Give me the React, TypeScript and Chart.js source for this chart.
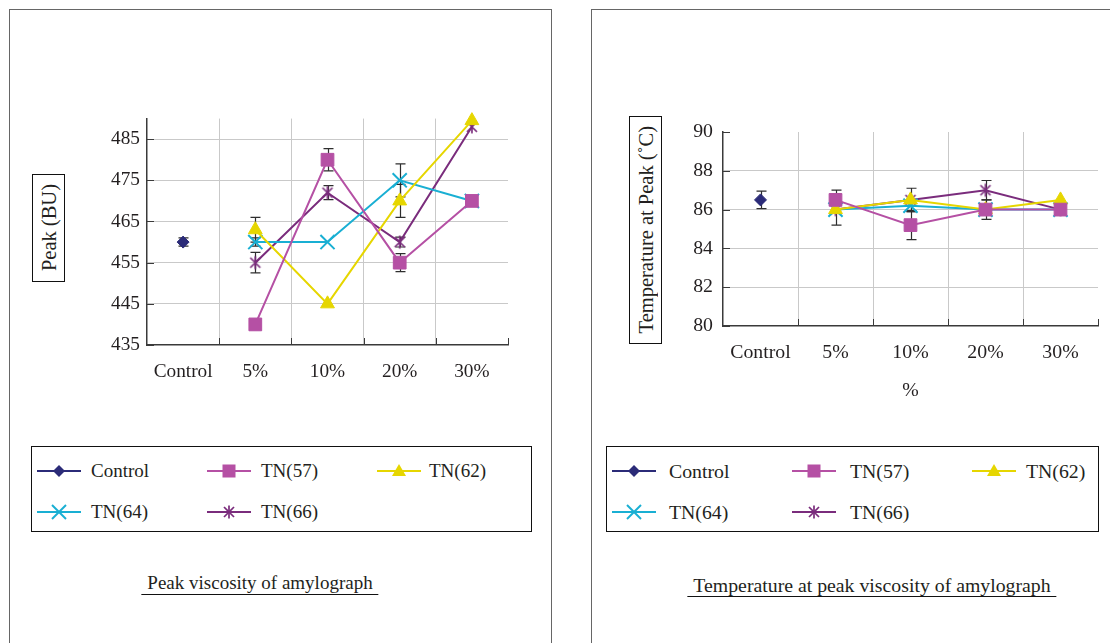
import React, { useEffect, useRef } from 'react';
import { Chart, registerables } from 'chart.js';

Chart.register(...registerables);

// ---------- data ----------
const categories = ['Control', '5%', '10%', '20%', '30%'];
const seriesNames = ['Control', 'TN(57)', 'TN(62)', 'TN(64)', 'TN(66)'];
const seriesColors = ['#2b2b78', '#b550a4', '#e6d600', '#19afd3', '#7a2c7c'];

// Peak (BU)
const peakControl = [460, null, null, null, null];
const peakTN57 = [null, 440, 480, 455, 470];
const peakTN62 = [null, 463, 445, 470, 489.5];
const peakTN64 = [null, 460, 460, 475, 470];
const peakTN66 = [null, 455, 472, 460, 488];
const peakErrControl = [1, null, null, null, null];
const peakErrTN57 = [null, null, 2.7, 2.2, null];
const peakErrTN62 = [null, 3, null, 4, null];
const peakErrTN64 = [null, 1, null, 4, null];
const peakErrTN66 = [null, 2.5, 1.7, 1.2, null];
const peakTicks = [435, 445, 455, 465, 475, 485];
const peakMin = 435;
const peakMax = 490;

// Temperature at peak (°C)
const tempControl = [86.5, null, null, null, null];
const tempTN57 = [null, 86.5, 85.2, 86, 86];
const tempTN62 = [null, 86, 86.5, 86, 86.5];
const tempTN64 = [null, 86, 86.2, 86, 86];
const tempTN66 = [null, 86, 86.5, 87, 86];
const tempErrControl = [0.45, null, null, null, null];
const tempErrTN57 = [null, 0.5, 0.75, 0.5, null];
const tempErrTN62 = [null, null, null, null, null];
const tempErrTN64 = [null, null, 0.3, null, null];
const tempErrTN66 = [null, 0.8, 0.6, 0.5, null];
const tempTicks = [80, 82, 84, 86, 88, 90];
const tempMin = 80;
const tempMax = 90;

// ---------- styling ----------
const FONT = "'Liberation Serif', 'Times New Roman', serif";
const TEXT = '#231f20';
const GRID = '#c9c9c9';
const AXIS = '#3a3a3a';
const TRANSPARENT = 'rgba(0,0,0,0)';

function makeStar(color: string): HTMLCanvasElement {
  const c = document.createElement('canvas');
  c.width = 16;
  c.height = 16;
  const g = c.getContext('2d')!;
  g.strokeStyle = color;
  g.lineWidth = 1.7;
  g.beginPath();
  g.moveTo(3, 3); g.lineTo(13, 13);
  g.moveTo(13, 3); g.lineTo(3, 13);
  g.moveTo(8, 1.5); g.lineTo(8, 14.5);
  g.stroke();
  return c;
}

const errorBarPlugin = {
  id: 'errorBars',
  beforeDatasetsDraw(chart: any) {
    const { ctx } = chart;
    const x = chart.scales.x;
    const y = chart.scales.y;
    ctx.save();
    ctx.strokeStyle = '#2e2e2e';
    ctx.lineWidth = 1.2;
    chart.data.datasets.forEach((ds: any) => {
      const errs = ds.errors;
      if (!errs) return;
      ds.data.forEach((v: number | null, i: number) => {
        const e = errs[i];
        if (v == null || !e) return;
        const px = Math.round(x.getPixelForValue(i)) + 0.5;
        const top = y.getPixelForValue(v + e);
        const bot = y.getPixelForValue(v - e);
        ctx.beginPath();
        ctx.moveTo(px, top); ctx.lineTo(px, bot);
        ctx.moveTo(px - 5, top); ctx.lineTo(px + 5, top);
        ctx.moveTo(px - 5, bot); ctx.lineTo(px + 5, bot);
        ctx.stroke();
      });
    });
    ctx.restore();
  },
};

const insideTicksPlugin = {
  id: 'insideTicks',
  beforeDatasetsDraw(chart: any) {
    const { ctx, chartArea } = chart;
    const x = chart.scales.x;
    const y = chart.scales.y;
    ctx.save();
    ctx.strokeStyle = AXIS;
    ctx.lineWidth = 1;
    ctx.beginPath();
    y.ticks.forEach((t: any) => {
      const py = Math.round(y.getPixelForValue(t.value)) + 0.5;
      ctx.moveTo(chartArea.left, py);
      ctx.lineTo(chartArea.left + 7, py);
    });
    const n = x.ticks.length;
    for (let i = 0; i < n; i++) {
      const bx = i < n - 1
        ? (x.getPixelForTick(i) + x.getPixelForTick(i + 1)) / 2
        : chartArea.right;
      const px = Math.round(bx) + 0.5;
      ctx.moveTo(px, chartArea.bottom);
      ctx.lineTo(px, chartArea.bottom - 7);
    }
    ctx.stroke();
    ctx.restore();
  },
};

function buildDatasets(values: (number | null)[][], errors: (number | null)[][]) {
  const star = makeStar(seriesColors[4]);
  const styles: any[] = [
    { pointStyle: 'rectRot', pointRadius: 6, pointBorderWidth: 1 },
    { pointStyle: 'rect', pointRadius: 9, pointBorderWidth: 1 },
    { pointStyle: 'triangle', pointRadius: 8, pointBorderWidth: 1 },
    { pointStyle: 'crossRot', pointRadius: 10, pointBorderWidth: 2 },
    { pointStyle: star, pointRadius: 8, pointBorderWidth: 1 },
  ];
  return values.map((data, i) => ({
    label: seriesNames[i],
    data,
    errors: errors[i],
    borderColor: seriesColors[i],
    backgroundColor: seriesColors[i],
    pointBackgroundColor: seriesColors[i],
    pointBorderColor: seriesColors[i],
    borderWidth: 2,
    clip: false,
    ...styles[i],
    pointHoverRadius: styles[i].pointRadius,
  }));
}

interface PanelChartProps {
  values: (number | null)[][];
  errors: (number | null)[][];
  ticks: number[];
  min: number;
  max: number;
  left: number;
  top: number;
  width: number;
  height: number;
  yAxisWidth: number;
  xAxisHeight: number;
  padRight: number;
  padTop: number;
  yLabelPad: number;
  xLabelPad: number;
  hideGridAt: number | null;
  xTitle: string | null;
  fontSize: number;
}

function PanelChart(p: PanelChartProps) {
  const ref = useRef<HTMLCanvasElement>(null);
  useEffect(() => {
    if (!ref.current) return;
    const chart = new Chart(ref.current, {
      type: 'line',
      data: { labels: categories, datasets: buildDatasets(p.values, p.errors) as any },
      options: {
        animation: false,
        responsive: false,
        events: [],
        layout: { padding: { left: 0, right: p.padRight, top: p.padTop, bottom: 0 } },
        plugins: { legend: { display: false }, tooltip: { enabled: false } },
        scales: {
          x: {
            type: 'category',
            offset: true,
            afterFit: (s: any) => { s.height = p.xAxisHeight; },
            grid: {
              offset: true,
              drawTicks: false,
              tickLength: 0,
              lineWidth: 1,
              color: (c: any) => (c.index === undefined || c.index === 0 ? TRANSPARENT : GRID),
            },
            border: { display: true, color: AXIS, width: 1.5 },
            ticks: { color: TEXT, font: { family: FONT, size: p.fontSize }, padding: p.xLabelPad, maxRotation: 0, autoSkip: false },
            title: p.xTitle
              ? { display: true, text: p.xTitle, color: TEXT, font: { family: FONT, size: p.fontSize }, padding: { top: 0, bottom: 17 } }
              : { display: false },
          },
          y: {
            type: 'linear',
            min: p.min,
            max: p.max,
            afterFit: (s: any) => { s.width = p.yAxisWidth; },
            afterBuildTicks: (s: any) => { s.ticks = p.ticks.map((v) => ({ value: v })); },
            grid: {
              drawTicks: false,
              tickLength: 0,
              lineWidth: 1,
              color: (c: any) => (c.tick && (c.tick.value === p.hideGridAt || c.tick.value === p.min) ? TRANSPARENT : GRID),
            },
            border: { display: true, color: AXIS, width: 1.5 },
            ticks: { color: TEXT, font: { family: FONT, size: p.fontSize }, padding: p.yLabelPad },
          },
        },
      },
      plugins: [errorBarPlugin, insideTicksPlugin],
    });
    return () => chart.destroy();
  }, []);
  return (
    <canvas
      ref={ref}
      width={p.width}
      height={p.height}
      style={{ position: 'absolute', left: p.left, top: p.top, width: p.width, height: p.height }}
    />
  );
}

function LegendIcon({ index }: { index: number }) {
  const c = seriesColors[index];
  const cx = 22, cy = 7;
  let marker: React.ReactNode = null;
  if (index === 0) marker = <polygon points={`${cx},${cy - 6} ${cx + 6},${cy} ${cx},${cy + 6} ${cx - 6},${cy}`} fill={c} />;
  if (index === 1) marker = <rect x={cx - 6.5} y={cy - 6.5} width={13} height={13} fill={c} />;
  if (index === 2) marker = <polygon points={`${cx},${cy - 7} ${cx + 7},${cy + 5} ${cx - 7},${cy + 5}`} fill={c} />;
  if (index === 3)
    marker = (
      <g stroke={c} strokeWidth={2}>
        <line x1={cx - 7} y1={cy - 7} x2={cx + 7} y2={cy + 7} />
        <line x1={cx + 7} y1={cy - 7} x2={cx - 7} y2={cy + 7} />
      </g>
    );
  if (index === 4)
    marker = (
      <g stroke={c} strokeWidth={1.7}>
        <line x1={cx - 5} y1={cy - 5} x2={cx + 5} y2={cy + 5} />
        <line x1={cx + 5} y1={cy - 5} x2={cx - 5} y2={cy + 5} />
        <line x1={cx} y1={cy - 6.5} x2={cx} y2={cy + 6.5} />
      </g>
    );
  return (
    <svg width={44} height={14} style={{ display: 'block', overflow: 'visible' }}>
      <line x1={0} y1={cy} x2={44} y2={cy} stroke={c} strokeWidth={2} />
      {marker}
    </svg>
  );
}

function Legend({ left, width, iconOffsets, textOffsets, fontSize }: { left: number; width: number; iconOffsets: number[]; textOffsets: number[]; fontSize: number }) {
  const rows = [24, 65];
  return (
    <div
      style={{
        position: 'absolute', left, top: 446, width, height: 86, boxSizing: 'border-box',
        border: '1px solid #111', background: '#fff',
      }}
    >
      {seriesNames.map((name, i) => {
        const row = Math.floor(i / 3);
        const col = i % 3;
        const cy = rows[row];
        return (
          <React.Fragment key={name}>
            <div style={{ position: 'absolute', left: iconOffsets[col], top: cy - 7 }}>
              <LegendIcon index={i} />
            </div>
            <div
              style={{
                position: 'absolute', left: textOffsets[col], top: cy - 11, height: 22, lineHeight: '22px',
                fontSize, color: TEXT, whiteSpace: 'nowrap',
              }}
            >
              {name}
            </div>
          </React.Fragment>
        );
      })}
    </div>
  );
}

function YTitle({ left, top, height, text }: { left: number; top: number; height: number; text: string }) {
  return (
    <div
      style={{
        position: 'absolute', left, top, width: 33, height, boxSizing: 'border-box', border: '1px solid #111',
        display: 'flex', alignItems: 'center', justifyContent: 'center',
      }}
    >
      <span style={{ writingMode: 'vertical-rl', transform: 'rotate(180deg)', fontSize: 20.5, color: TEXT, whiteSpace: 'nowrap', lineHeight: '22px' }}>
        {text}
      </span>
    </div>
  );
}

function Caption({ cx, top, text, fontSize }: { cx: number; top: number; text: string; fontSize: number }) {
  return (
    <div
      style={{
        position: 'absolute', left: cx, top, transform: 'translateX(-50%)', lineHeight: '22px', fontSize,
        color: TEXT, whiteSpace: 'nowrap', borderBottom: '1px solid #111', padding: '0 6px',
      }}
    >
      {text}
    </div>
  );
}

export default function App() {
  return (
    <div
      style={{
        position: 'fixed', left: 0, top: 0, width: 1110, height: 643, overflow: 'hidden', background: '#fff',
        fontFamily: FONT,
      }}
    >
      {/* panel frames */}
      <div style={{ position: 'absolute', left: 9, top: 9, width: 543, height: 700, boxSizing: 'border-box', border: '1px solid #666' }} />
      <div style={{ position: 'absolute', left: 591, top: 9, width: 600, height: 700, boxSizing: 'border-box', border: '1px solid #666' }} />

      {/* left chart */}
      <PanelChart
        values={[peakControl, peakTN57, peakTN62, peakTN64, peakTN66]}
        errors={[peakErrControl, peakErrTN57, peakErrTN62, peakErrTN64, peakErrTN66]}
        ticks={peakTicks}
        min={peakMin}
        max={peakMax}
        left={100}
        top={100}
        width={430}
        height={300}
        yAxisWidth={47}
        xAxisHeight={55}
        padRight={22}
        padTop={18}
        yLabelPad={7}
        xLabelPad={15}
        hideGridAt={null}
        xTitle={null}
        fontSize={19.3}
      />
      <YTitle left={32} top={174} height={108} text="Peak (BU)" />
      <Legend left={31} width={501} iconOffsets={[5, 175, 345]} textOffsets={[59, 229, 397]} fontSize={19} />
      <Caption cx={260} top={572} text="Peak viscosity of amylograph" fontSize={19} />

      {/* right chart */}
      <PanelChart
        values={[tempControl, tempTN57, tempTN62, tempTN64, tempTN66]}
        errors={[tempErrControl, tempErrTN57, tempErrTN62, tempErrTN64, tempErrTN66]}
        ticks={tempTicks}
        min={tempMin}
        max={tempMax}
        left={670}
        top={100}
        width={440}
        height={320}
        yAxisWidth={53}
        xAxisHeight={94}
        padRight={12}
        padTop={32}
        yLabelPad={10}
        xLabelPad={15}
        hideGridAt={90}
        xTitle="%"
        fontSize={19.8}
      />
      <YTitle left={629} top={116} height={228} text="Temperature at Peak (˚C)" />
      <Legend left={606} width={493} iconOffsets={[5, 185, 365]} textOffsets={[62, 243, 419]} fontSize={19.8} />
      <Caption cx={872} top={574} text="Temperature at peak viscosity of amylograph" fontSize={19.8} />
    </div>
  );
}
